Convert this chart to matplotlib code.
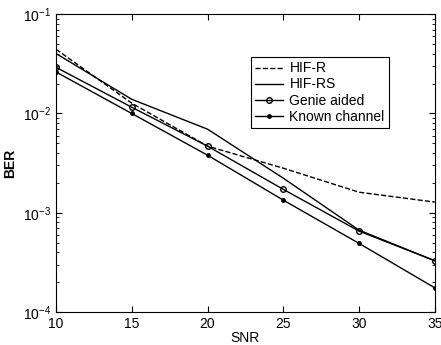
import matplotlib
matplotlib.use('Agg')
import matplotlib.pyplot as plt

plt.rcParams['font.family'] = ['Liberation Sans', 'DejaVu Sans']

snr = [10, 15, 20, 25, 30, 35]

# BER values
ber_hif_r = [0.0444, 0.0127, 0.00469, 0.00281, 0.00161, 0.00128]
ber_hif_rs = [0.0402, 0.0139, 0.00695, 0.00223, 0.000668, 0.000328]
ber_genie = [0.0292, 0.01156, 0.00469, 0.00172, 0.000653, 0.000328]
ber_known = [0.0262, 0.0100, 0.0038, 0.00134, 0.000491, 0.000175]

fig = plt.figure(figsize=(4.41, 3.45), dpi=100)
ax = fig.add_axes([0.127, 0.0957, 0.859, 0.863])

ax.semilogy(snr, ber_hif_r, color='black', linestyle='--', linewidth=1.0, label='HIF-R')
ax.semilogy(snr, ber_hif_rs, color='black', linestyle='-', linewidth=1.0, label='HIF-RS')
ax.semilogy(snr, ber_genie, color='black', linestyle='-', linewidth=1.0,
            marker='o', markersize=4, markerfacecolor='none', label='Genie aided')
ax.semilogy(snr, ber_known, color='black', linestyle='-', linewidth=1.0,
            marker='.', markersize=5, label='Known channel')

ax.set_xlim(10, 35)
ax.set_ylim(1e-4, 1e-1)
ax.set_xticks(snr)
ax.tick_params(which='both', direction='in', top=True, right=True, labelsize=10)
ax.tick_params(which='major', length=4)
ax.tick_params(which='minor', length=2)
ax.set_xlabel('SNR', fontsize=10, labelpad=0)
ax.set_ylabel('BER', fontsize=10, fontweight='bold')

leg = ax.legend(loc='upper right', bbox_to_anchor=(0.897, 0.879), fontsize=10,
                frameon=True, fancybox=False, edgecolor='black', framealpha=1,
                handlelength=2.0, borderpad=0.3, labelspacing=0.15, handletextpad=0.5)
leg.get_frame().set_linewidth(0.8)

fig.savefig('out.png', dpi=100)
